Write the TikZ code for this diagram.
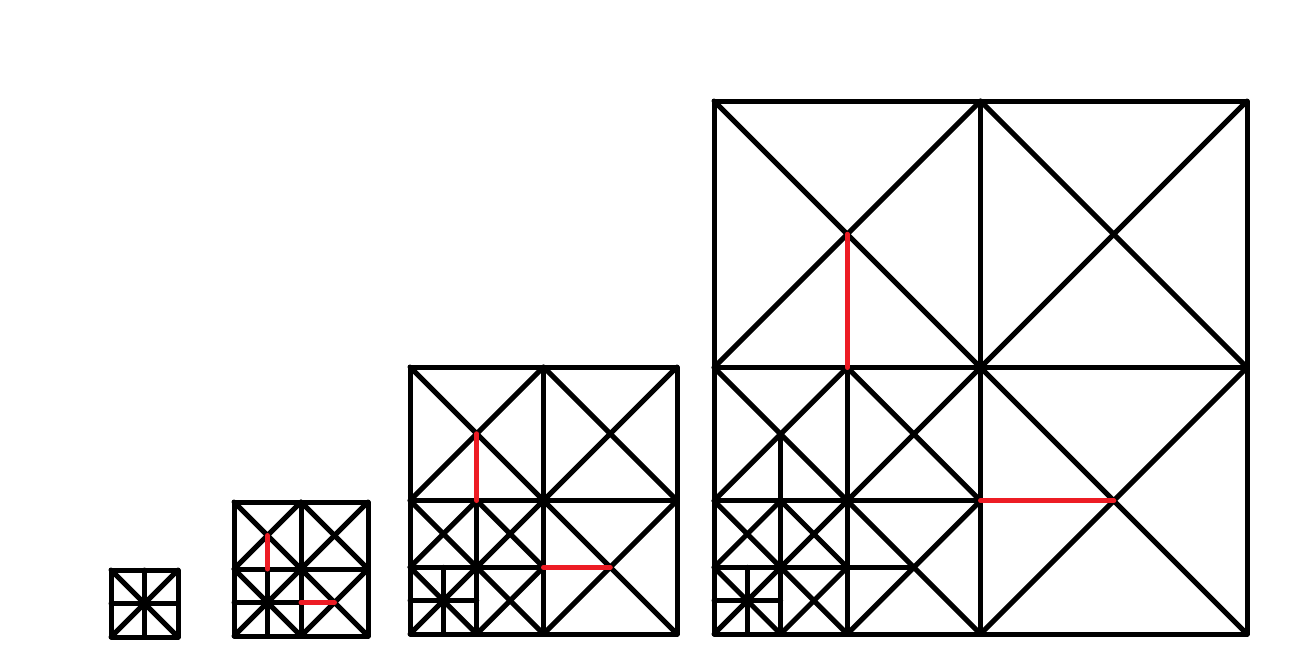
\documentclass[tikz,border=0pt]{standalone}
\definecolor{paintred}{RGB}{237,28,36}
\tikzset{
  grid line/.style={line width=5pt, black, line cap=round, line join=round},
  red ext/.style={line width=5pt, paintred, line cap=round},
  black ext/.style={line width=5pt, black, line cap=round},
}
% square with both diagonals: #1 = left, #2 = top, #3 = side
\newcommand\xsq[3]{%
  \draw[grid line] (#1,#2) rectangle ++(#3,#3);
  \draw[grid line] (#1,#2) -- ++(#3,#3);
  \draw[grid line] (#1+#3,#2) -- ++(-#3,#3);
}
% base square with diagonals and a cross
\newcommand\basesq[3]{%
  \xsq{#1}{#2}{#3}
  \draw[grid line] (#1+#3/2,#2) -- ++(0,#3);
  \draw[grid line] (#1,#2+#3/2) -- ++(#3,0);
}
% three diagonal quarters of a square
\newcommand\threeq[3]{%
  \xsq{#1}{#2}{#3/2}
  \xsq{#1+#3/2}{#2}{#3/2}
  \xsq{#1+#3/2}{#2+#3/2}{#3/2}
}
% extension segments, #1 = style
\newcommand\extseg[4]{%
  \draw[#1] (#2+#4/4,#3+#4/4) -- (#2+#4/4,#3+#4/2);
  \draw[#1] (#2+#4/2,#3+3*#4/4) -- (#2+3*#4/4,#3+3*#4/4);
}
% level 1 without extension segments
\newcommand\levelone[3]{%
  \threeq{#1}{#2}{#3}
  \basesq{#1}{#2+#3/2}{#3/2}
}
\begin{document}
\begin{tikzpicture}[x=1pt,y=-1pt]
\useasboundingbox (0,0) rectangle (1305,648);
% figure 0
\basesq{111}{570}{67}
% figure 1
\levelone{234}{502}{134}
\extseg{red ext}{234}{502}{134}
% figure 2
\threeq{410}{367}{267}
\levelone{410}{500.5}{133.5}
\extseg{red ext}{410}{367}{267}
% figure 3
\threeq{714}{101}{533}
\threeq{714}{367.5}{266.5}
\levelone{714}{500.75}{133.25}
\extseg{black ext}{714}{367.5}{266.5}
\extseg{red ext}{714}{101}{533}
\end{tikzpicture}
\end{document}
